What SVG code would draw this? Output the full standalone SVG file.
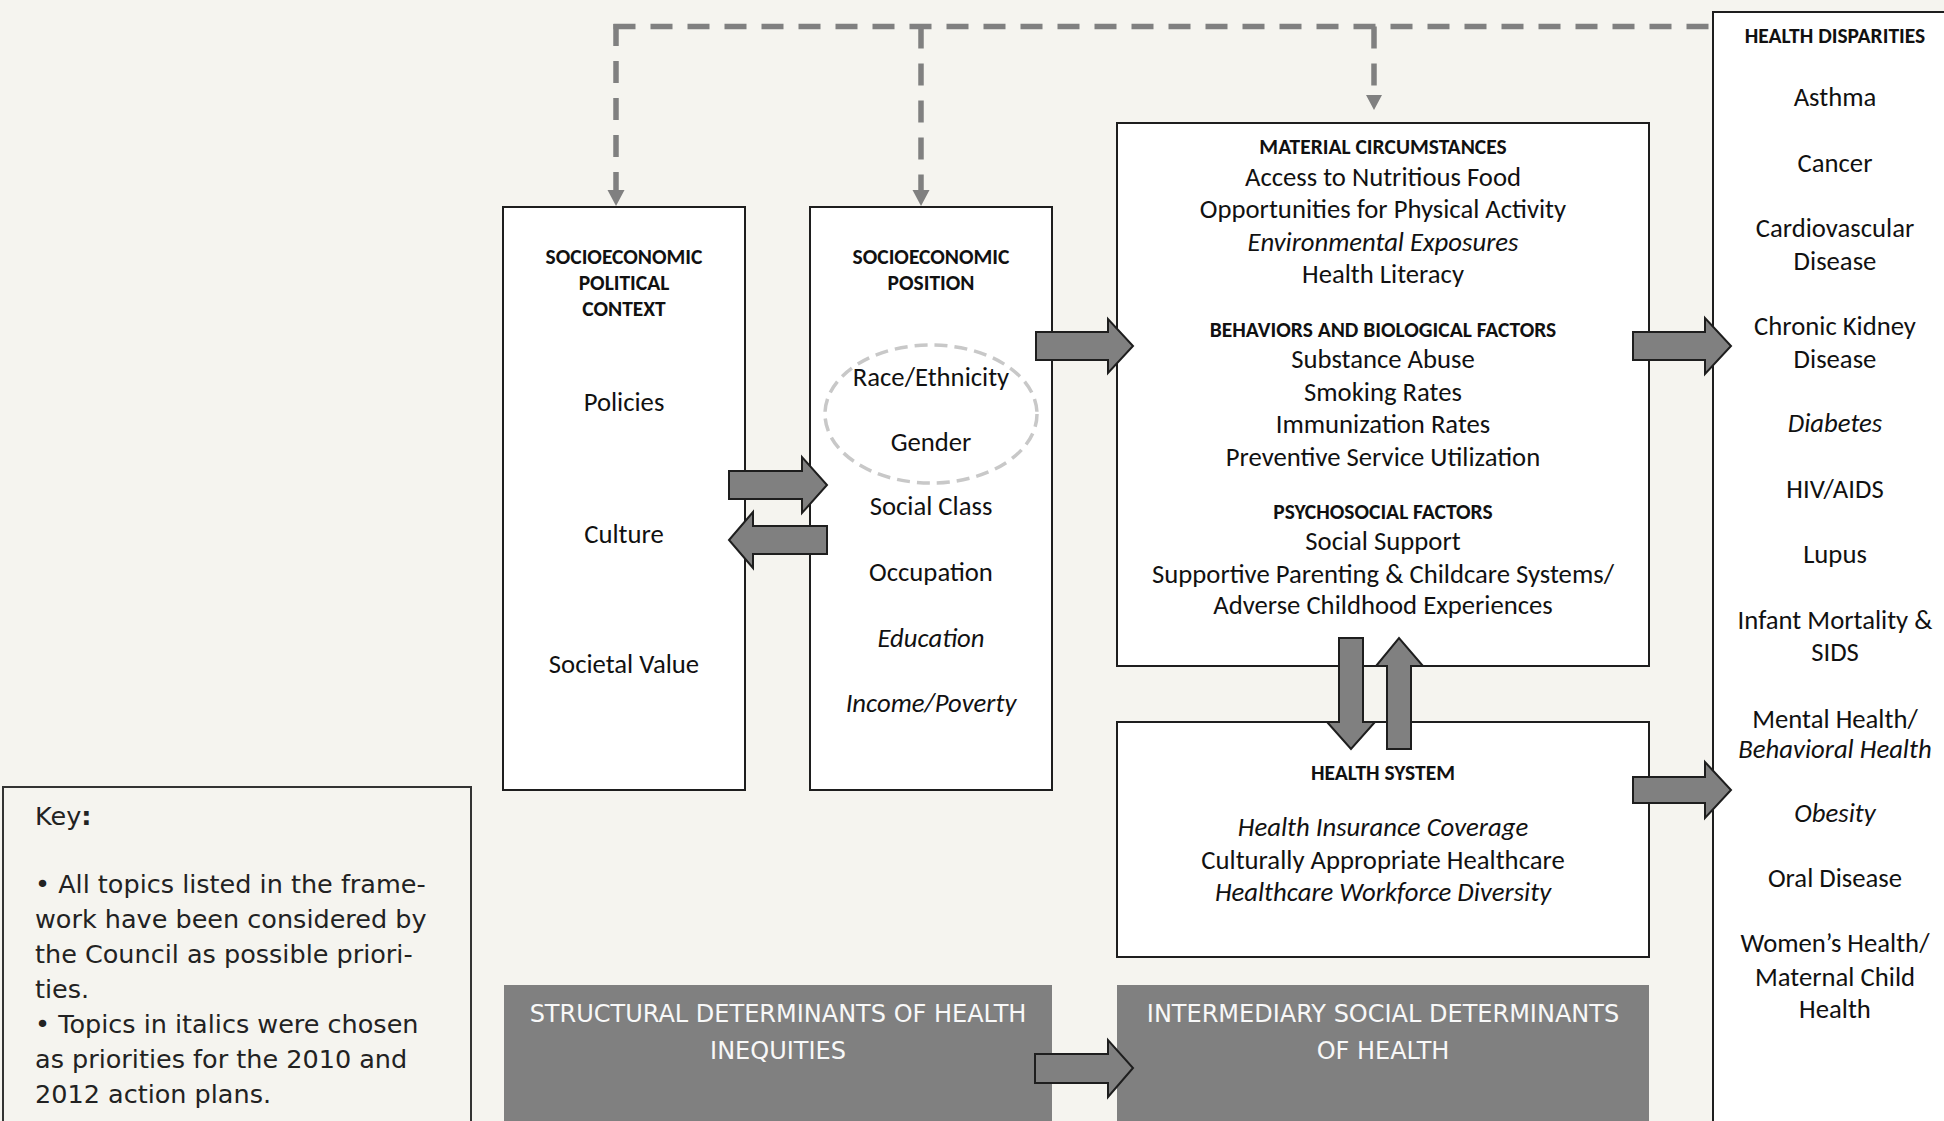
<svg xmlns="http://www.w3.org/2000/svg" width="1944" height="1121" viewBox="0 0 1944 1121">
<defs>
<style>
.bg{fill:#f5f4ef}
.box{fill:#ffffff;stroke:#1e1e1e;stroke-width:2}
.gbox{fill:#808080;stroke:none}
.t{font-family:Carlito,Lato,"Liberation Sans",sans-serif;font-size:26.7px;fill:#111;text-anchor:middle}
.i{font-style:italic}
.h{font-family:Carlito,Lato,"Liberation Sans",sans-serif;font-size:21.5px;font-weight:bold;fill:#111;text-anchor:middle}
.w{font-family:"DejaVu Sans",Verdana,sans-serif;font-size:24px;fill:#f8f8f8;text-anchor:middle}
.k{font-family:"DejaVu Sans",Verdana,sans-serif;font-size:25.5px;fill:#222}
.dash{fill:none;stroke:#808080;stroke-width:5.5;stroke-dasharray:22 15}
.dhead{fill:#808080}
.arr{fill:#808080;stroke:#1e1e1e;stroke-width:2;stroke-linejoin:miter}
</style>
</defs>
<rect class="bg" x="0" y="0" width="1944" height="1121"/>

<g id="key">
<rect x="3" y="787" width="468" height="400" fill="none" stroke="#333" stroke-width="2"/>
<text class="k" x="35" y="825">Key<tspan font-weight="bold">:</tspan></text>
<text class="k" x="35" y="893">• All topics listed in the frame-</text>
<text class="k" x="35" y="928">work have been considered by</text>
<text class="k" x="35" y="963">the Council as possible priori-</text>
<text class="k" x="35" y="998">ties.</text>
<text class="k" x="35" y="1033">• Topics in italics were chosen</text>
<text class="k" x="35" y="1068">as priorities for the 2010 and</text>
<text class="k" x="35" y="1103">2012 action plans.</text>
</g>

<g id="context">
<rect class="box" x="503" y="207" width="242" height="583"/>
<text class="h" x="624" y="264">SOCIOECONOMIC</text>
<text class="h" x="624" y="290">POLITICAL</text>
<text class="h" x="624" y="316">CONTEXT</text>
<text class="t" x="624" y="411">Policies</text>
<text class="t" x="624" y="543">Culture</text>
<text class="t" x="624" y="673">Societal Value</text>
</g>

<g id="position">
<rect class="box" x="810" y="207" width="242" height="583"/>
<text class="h" x="931" y="264">SOCIOECONOMIC</text>
<text class="h" x="931" y="290">POSITION</text>
<ellipse cx="931" cy="414" rx="106" ry="69" fill="none" stroke="#c8c8c8" stroke-width="3.5" stroke-dasharray="13 7"/>
<text class="t" x="931" y="386">Race/Ethnicity</text>
<text class="t" x="931" y="451">Gender</text>
<text class="t" x="931" y="515">Social Class</text>
<text class="t" x="931" y="581">Occupation</text>
<text class="t i" x="931" y="647">Education</text>
<text class="t i" x="931" y="712">Income/Poverty</text>
</g>

<g id="intermediary">
<rect class="box" x="1117" y="123" width="532" height="543"/>
<text class="h" x="1383" y="154">MATERIAL CIRCUMSTANCES</text>
<text class="t" x="1383" y="186">Access to Nutritious Food</text>
<text class="t" x="1383" y="218">Opportunities for Physical Activity</text>
<text class="t i" x="1383" y="251">Environmental Exposures</text>
<text class="t" x="1383" y="283">Health Literacy</text>
<text class="h" x="1383" y="337">BEHAVIORS AND BIOLOGICAL FACTORS</text>
<text class="t" x="1383" y="368">Substance Abuse</text>
<text class="t" x="1383" y="401">Smoking Rates</text>
<text class="t" x="1383" y="433">Immunization Rates</text>
<text class="t" x="1383" y="466">Preventive Service Utilization</text>
<text class="h" x="1383" y="519">PSYCHOSOCIAL FACTORS</text>
<text class="t" x="1383" y="550">Social Support</text>
<text class="t" x="1383" y="583">Supportive Parenting &amp; Childcare Systems/</text>
<text class="t" x="1383" y="614">Adverse Childhood Experiences</text>
</g>

<g id="health-system">
<rect class="box" x="1117" y="722" width="532" height="235"/>
<text class="h" x="1383" y="780">HEALTH SYSTEM</text>
<text class="t i" x="1383" y="836">Health Insurance Coverage</text>
<text class="t" x="1383" y="869">Culturally Appropriate Healthcare</text>
<text class="t i" x="1383" y="901">Healthcare Workforce Diversity</text>
</g>

<g id="disparities">
<rect class="box" x="1713" y="12" width="260" height="1150"/>
<text class="h" x="1835" y="43">HEALTH DISPARITIES</text>
<text class="t" x="1835" y="106">Asthma</text>
<text class="t" x="1835" y="172">Cancer</text>
<text class="t" x="1835" y="237">Cardiovascular</text>
<text class="t" x="1835" y="270">Disease</text>
<text class="t" x="1835" y="335">Chronic Kidney</text>
<text class="t" x="1835" y="368">Disease</text>
<text class="t i" x="1835" y="432">Diabetes</text>
<text class="t" x="1835" y="498">HIV/AIDS</text>
<text class="t" x="1835" y="563">Lupus</text>
<text class="t" x="1835" y="629">Infant Mortality &amp;</text>
<text class="t" x="1835" y="661">SIDS</text>
<text class="t" x="1835" y="728">Mental Health/</text>
<text class="t i" x="1835" y="758">Behavioral Health</text>
<text class="t i" x="1835" y="822">Obesity</text>
<text class="t" x="1835" y="887">Oral Disease</text>
<text class="t" x="1835" y="952">Women’s Health/</text>
<text class="t" x="1835" y="986">Maternal Child</text>
<text class="t" x="1835" y="1018">Health</text>
</g>

<g id="structural-label">
<rect class="gbox" x="504" y="985" width="548" height="150"/>
<text class="w" x="778" y="1022">STRUCTURAL DETERMINANTS OF HEALTH</text>
<text class="w" x="778" y="1059">INEQUITIES</text>
</g>

<g id="intermediary-label">
<rect class="gbox" x="1117" y="985" width="532" height="150"/>
<text class="w" x="1383" y="1022">INTERMEDIARY SOCIAL DETERMINANTS</text>
<text class="w" x="1383" y="1059">OF HEALTH</text>
</g>

<g id="connectors">
<path class="dash" d="M613.5 26.5 H1713"/>
<path class="dash" d="M616 24 V191"/>
<path class="dash" d="M921 26.5 V191"/>
<path class="dash" d="M1374 26.5 V96"/>
<polygon class="dhead" points="607.5,190 624.5,190 616,206"/>
<polygon class="dhead" points="912.5,190 929.5,190 921,206"/>
<polygon class="dhead" points="1366,95 1382,95 1374,110"/>
<polygon class="arr" points="729,471 802,471 802,457 827,485 802,513 802,499 729,499"/>
<polygon class="arr" points="827,526 753,526 753,512 729,540 753,568 753,554 827,554"/>
<polygon class="arr" points="1036,332 1108,332 1108,319 1133,346 1108,373 1108,360 1036,360"/>
<polygon class="arr" points="1633,332 1705,332 1705,318 1731,346 1705,374 1705,360 1633,360"/>
<polygon class="arr" points="1633,777 1705,777 1705,762 1731,790 1705,818 1705,803 1633,803"/>
<polygon class="arr" points="1339,638 1363,638 1363,722 1375,722 1351,749 1327,722 1339,722"/>
<polygon class="arr" points="1387,749 1411,749 1411,666 1423,666 1399,638 1376,666 1387,666"/>
<polygon class="arr" points="1035,1054 1108,1054 1108,1040 1133,1068 1108,1097 1108,1083 1035,1083"/>
</g>
</svg>
